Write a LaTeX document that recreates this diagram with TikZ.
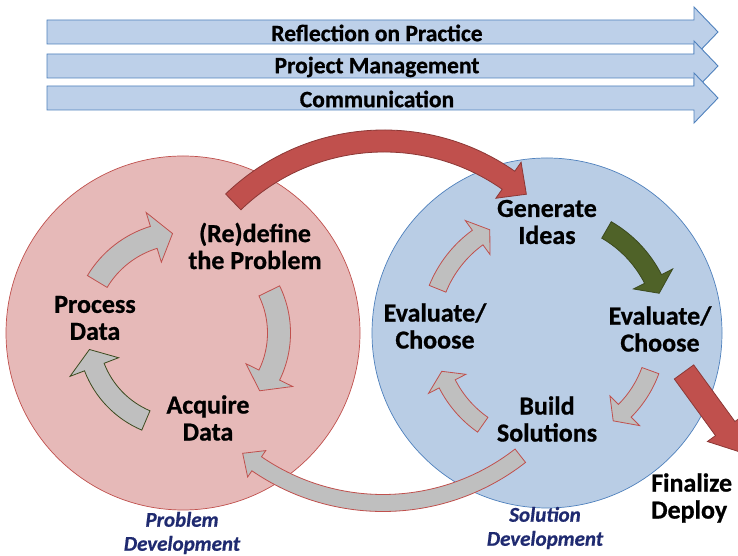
\documentclass[tikz,border=0pt]{standalone}
\usepackage{fontspec}
\setmainfont{Carlito}[BoldFeatures={FakeBold=0.7},BoldItalicFeatures={FakeBold=0.7}]
\definecolor{pinkfill}{HTML}{E6B9B8}
\definecolor{pinkline}{HTML}{C0504D}
\definecolor{bluefill}{HTML}{B9CDE5}
\definecolor{blueline}{HTML}{4F81BD}
\definecolor{banfill}{HTML}{BDD0E9}
\definecolor{arrgray}{HTML}{BFBFBF}
\definecolor{outred}{HTML}{C0504D}
\definecolor{outgreen}{HTML}{3B4A1E}
\definecolor{darkgreen}{HTML}{4F6228}
\definecolor{bigred}{HTML}{C0504D}
\definecolor{bigredline}{HTML}{8C3836}
\definecolor{navy}{HTML}{1F2A70}
\tikzset{
  lab/.style={font=\fontsize{26}{27}\selectfont\bfseries, align=center, inner sep=0pt},
  ban/.style={font=\fontsize{23.5}{24}\selectfont\bfseries, inner sep=0pt},
  ital/.style={font=\fontsize{21}{24}\selectfont\bfseries\itshape, text=navy, align=center, inner sep=0pt},
  grayred/.style={fill=arrgray, draw=outred, line width=0.8pt},
  graygreen/.style={fill=arrgray, draw=outgreen, line width=0.8pt},
  greenarr/.style={fill=darkgreen, draw=outgreen, line width=0.8pt},
  redarr/.style={fill=bigred, draw=bigredline, line width=0.8pt},
  banner/.style={fill=banfill, draw=blueline, line width=0.9pt},
  bigcircle/.style={circle, inner sep=0pt, line width=0.7pt},
}
% #1 centre, #2 radius, #3 start angle, #4 tip angle, #5 shaft width, #6 head half width, #7 head length (deg), #8 style
\newcommand\CurvedArrow[8]{%
  \pgfmathsetmacro\cAab{#4 + ((#3>#4) ? #7 : -#7)}%
  \pgfmathsetmacro\cAro{#2+#5/2}%
  \pgfmathsetmacro\cAri{#2-#5/2}%
  \pgfmathsetmacro\cAho{#2+#6}%
  \pgfmathsetmacro\cAhi{#2-#6}%
  \path[#8,shift={(#1)}] (#3:\cAro pt) arc[start angle=#3,end angle=\cAab,radius=\cAro pt]
    -- (\cAab:\cAho pt) -- (#4:#2 pt) -- (\cAab:\cAhi pt) -- (\cAab:\cAri pt)
    arc[start angle=\cAab,end angle=#3,radius=\cAri pt] -- cycle;
}
\begin{document}
\begin{tikzpicture}[x=1pt,y=1pt]
\useasboundingbox (0,0) rectangle (738,556);
\clip (0,0) rectangle (738,556);
\fill[white] (0,0) rectangle (738,556);
% banners
\draw[banner] (47,512) -- (694,512) -- (694,499) -- (718,524) -- (694,549) -- (694,536) -- (47,536) -- cycle;
\draw[banner] (47,478) -- (694,478) -- (694,465) -- (718,490) -- (694,515) -- (694,502) -- (47,502) -- cycle;
\draw[banner] (47,446) -- (694,446) -- (694,433) -- (718,458) -- (694,483) -- (694,470) -- (47,470) -- cycle;
\node[ban] (t1) at (377,523) {Reflection on Practice};
\node[ban] (t2) at (377,489) {Project Management};
\node[ban] (t3) at (377,457) {Communication};
% circles
\node[bigcircle, fill=pinkfill, draw=pinkline, minimum size=354pt] (pc) at (183,223) {};
\node[bigcircle, fill=bluefill, draw=blueline, minimum size=350pt] (sc) at (547,223) {};
% cycle arrows, problem side
\CurvedArrow{183,223}{100}{149}{96}{23}{26}{11}{grayred}
\CurvedArrow{183,223}{96}{26}{-37}{23}{26}{11}{grayred}
\CurvedArrow{183,223}{95}{247}{190}{21}{26}{11}{graygreen}
% cycle arrows, solution side
\CurvedArrow{547,223}{118}{158}{119}{18}{21}{7}{grayred}
\CurvedArrow{547,223}{119}{60}{19.5}{19}{22}{7.5}{greenarr}
\CurvedArrow{547,223}{110}{-20}{-53}{18}{21}{8}{grayred}
\CurvedArrow{547,223}{112}{235}{200}{18}{21}{7}{grayred}
% labels
\node[lab] (redef) at (255,310) {(Re)define\\the Problem};
\node[lab] (proc) at (95,238) {Process\\Data};
\node[lab] (acq) at (208,138) {Acquire\\Data};
\node[lab] (gen) at (547,334) {Generate\\Ideas};
\node[lab] (evl) at (435,230) {Evaluate/\\Choose};
\node[lab] (evr) at (660,227) {Evaluate/\\Choose};
\node[lab] (build) at (547,137) {Build\\Solutions};
\node[lab, align=left, anchor=west] (fin) at (651,58) {Finalize\\Deploy};
\node[ital] (pd) at (182,23) {Problem\\Development};
\node[ital] (sd) at (545,28) {Solution\\Development};
% big connecting arrows
\CurvedArrow{384,198}{217}{134}{49}{22}{22}{6}{redarr}
\CurvedArrow{383,276}{223}{-52}{-129}{17}{16}{4.5}{grayred}
\draw[redarr] (674.3,177.0) -- (693.7,191.1) -- (734.9,134.5) -- (743.0,140.3) -- (742.8,103.1) -- (707.4,114.5) -- (715.5,120.4) -- cycle;
\end{tikzpicture}
\end{document}
